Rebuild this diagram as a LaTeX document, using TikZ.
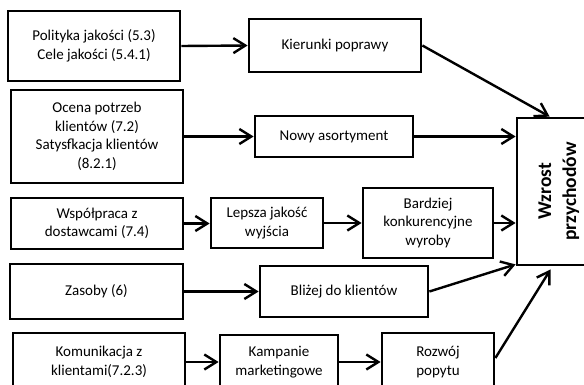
\documentclass[tikz,border=0pt]{standalone}
\usepackage{fontspec}
\setmainfont{Carlito}
\usetikzlibrary{arrows.meta,calc}
\tikzset{
  box/.style={draw, line width=2.8pt, rectangle, align=center, inner sep=2pt,
    font=\fontsize{15}{18.5}\selectfont},
  conn/.style={line width=2.4pt, -{Straight Barb[length=12pt,width=15pt]}}
}
\begin{document}
\begin{tikzpicture}[x=1pt,y=-1pt]
\useasboundingbox (0,0) rectangle (584,385);
\clip (0,0) rectangle (584,385);
% left column
\node[box, minimum width=172pt, minimum height=70pt] (p1) at (94,46) {Polityka jakości (5.3)\\Cele jakości (5.4.1)};
\node[box, minimum width=172pt, minimum height=93pt] (p2) at (97,136.5) {Ocena potrzeb\\klientów (7.2)\\Satysfkacja klientów\\(8.2.1)};
\node[box, minimum width=172pt, minimum height=51pt] (wsp) at (97,223.5) {Współpraca z\\dostawcami (7.4)};
\node[box, minimum width=173pt, minimum height=55pt] (zas) at (96.5,291.5) {Zasoby (6)};
\node[box, minimum width=172pt, minimum height=58pt] (kom) at (99,362) {Komunikacja z\\klientami(7.2.3)};
% middle
\node[box, minimum width=172pt, minimum height=53pt] (kier) at (335,45.5) {Kierunki poprawy};
\node[box, minimum width=158pt, minimum height=41pt] (nowy) at (334,136.5) {Nowy asortyment};
\node[box, minimum width=112pt, minimum height=50pt] (lep) at (267,223) {Lepsza jakość\\wyjścia};
\node[box, minimum width=130pt, minimum height=70pt] (bard) at (428,223) {Bardziej\\konkurencyjne\\wyroby};
\node[box, minimum width=168pt, minimum height=51pt] (bliz) at (344,291.5) {Bliżej do klientów};
\node[box, minimum width=118pt, minimum height=54pt] (kamp) at (279,362) {Kampanie\\marketingowe};
\node[box, minimum width=112pt, minimum height=58pt] (roz) at (438,362) {Rozwój\\popytu};
% right
\node[box, minimum width=83pt, minimum height=147pt] (wz) at (558.5,191.5)
  {\rotatebox{90}{\fontsize{19.5}{25}\selectfont\bfseries\begin{tabular}{@{}c@{}}Wzrost\\przychodów\end{tabular}}};
\coordinate (wzA) at ($(wz.north west)+(34,0)$);
\coordinate (wzB) at ($(wz.south west)+(0,-2)$);
\coordinate (wzC) at ($(wz.south west)+(35,3)$);
\coordinate (rozO) at ($(roz.east)+(0,-4)$);
% connectors
\draw[conn] (p1.east) -- (kier.west);
\draw[conn] (kier.east) -- (wzA);
\draw[conn] (p2.east |- nowy.west) -- (nowy.west);
\draw[conn] (nowy.east) -- (nowy.east -| wz.west);
\draw[conn] (wsp.east) -- (wsp.east -| lep.west);
\draw[conn] (lep.east) -- (lep.east -| bard.west);
\draw[conn] (bard.east) -- (bard.east -| wz.west);
\draw[conn] (zas.east) -- (zas.east -| bliz.west);
\draw[conn] (bliz.east) -- (wzB);
\draw[conn] (kom.east |- kamp.west) -- (kamp.west);
\draw[conn] (kamp.east) -- (kamp.east -| roz.west);
\draw[conn] (rozO) -- (wzC);
\end{tikzpicture}
\end{document}
